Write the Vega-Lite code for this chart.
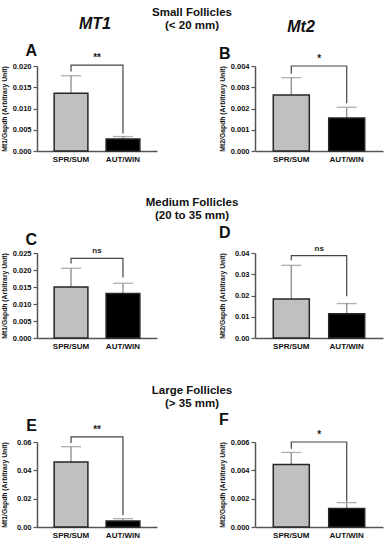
{
 "$schema": "https://vega.github.io/schema/vega-lite/v6.json",
 "background": "white",
 "padding": {"left": 1, "top": 6, "right": 2, "bottom": 2},
 "config": {
  "font": "Liberation Sans",
  "view": {"stroke": null},
  "title": {"font": "Liberation Sans", "fontWeight": "bold", "color": "#111111"},
  "scale": {"bandPaddingInner": 0.35, "bandPaddingOuter": 0.33},
  "axis": {"grid": false, "domainColor": "#555555", "domainWidth": 1.5, "tickColor": "#555555", "tickWidth": 1.2, "labelFont": "Liberation Sans", "labelFontWeight": "bold", "labelColor": "#111111", "titleFont": "Liberation Sans", "titleFontWeight": "bold", "titleColor": "#111111", "labelOverlap": false},
  "axisX": {"ticks": false, "labelFontSize": 8, "labelAngle": 0, "labelPadding": 4},
  "axisY": {"labelFontSize": 7.5, "titleFontSize": 6.8, "tickSize": 4, "labelPadding": 2, "titlePadding": 4, "minExtent": 26, "maxExtent": 26, "labelFlush": false}
 },
 "datasets": {
  "bars": [
   {"panel": "A", "group": "SPR/SUM", "mean": 0.0136, "upper": 0.0177},
   {"panel": "A", "group": "AUT/WIN", "mean": 0.0028, "upper": 0.0034},
   {"panel": "B", "group": "SPR/SUM", "mean": 0.00263, "upper": 0.00345},
   {"panel": "B", "group": "AUT/WIN", "mean": 0.00155, "upper": 0.00206},
   {"panel": "C", "group": "SPR/SUM", "mean": 0.0150, "upper": 0.0205},
   {"panel": "C", "group": "AUT/WIN", "mean": 0.0131, "upper": 0.0161},
   {"panel": "D", "group": "SPR/SUM", "mean": 0.0184, "upper": 0.0342},
   {"panel": "D", "group": "AUT/WIN", "mean": 0.0114, "upper": 0.0162},
   {"panel": "E", "group": "SPR/SUM", "mean": 0.0458, "upper": 0.0567},
   {"panel": "E", "group": "AUT/WIN", "mean": 0.0043, "upper": 0.0059},
   {"panel": "F", "group": "SPR/SUM", "mean": 0.00442, "upper": 0.00526},
   {"panel": "F", "group": "AUT/WIN", "mean": 0.0013, "upper": 0.00172}
  ],
  "brk": [
   {"panel": "A", "group": "SPR/SUM", "y": 0.0187, "k": 0},
   {"panel": "A", "group": "SPR/SUM", "y": 0.0202, "k": 1},
   {"panel": "A", "group": "AUT/WIN", "y": 0.0202, "k": 2},
   {"panel": "A", "group": "AUT/WIN", "y": 0.0041, "k": 3},
   {"panel": "B", "group": "SPR/SUM", "y": 0.00364, "k": 0},
   {"panel": "B", "group": "SPR/SUM", "y": 0.0040, "k": 1},
   {"panel": "B", "group": "AUT/WIN", "y": 0.0040, "k": 2},
   {"panel": "B", "group": "AUT/WIN", "y": 0.00225, "k": 3},
   {"panel": "C", "group": "SPR/SUM", "y": 0.0219, "k": 0},
   {"panel": "C", "group": "SPR/SUM", "y": 0.0234, "k": 1},
   {"panel": "C", "group": "AUT/WIN", "y": 0.0234, "k": 2},
   {"panel": "C", "group": "AUT/WIN", "y": 0.0178, "k": 3},
   {"panel": "D", "group": "SPR/SUM", "y": 0.0366, "k": 0},
   {"panel": "D", "group": "SPR/SUM", "y": 0.0388, "k": 1},
   {"panel": "D", "group": "AUT/WIN", "y": 0.0388, "k": 2},
   {"panel": "D", "group": "AUT/WIN", "y": 0.0197, "k": 3},
   {"panel": "E", "group": "SPR/SUM", "y": 0.0593, "k": 0},
   {"panel": "E", "group": "SPR/SUM", "y": 0.0636, "k": 1},
   {"panel": "E", "group": "AUT/WIN", "y": 0.0636, "k": 2},
   {"panel": "E", "group": "AUT/WIN", "y": 0.0083, "k": 3},
   {"panel": "F", "group": "SPR/SUM", "y": 0.00552, "k": 0},
   {"panel": "F", "group": "SPR/SUM", "y": 0.0060, "k": 1},
   {"panel": "F", "group": "AUT/WIN", "y": 0.0060, "k": 2},
   {"panel": "F", "group": "AUT/WIN", "y": 0.00178, "k": 3}
  ],
  "sig": [
   {"panel": "A", "group": "SPR/SUM", "y": 0.0202, "label": "**"},
   {"panel": "B", "group": "SPR/SUM", "y": 0.0040, "label": "*"},
   {"panel": "C", "group": "SPR/SUM", "y": 0.0234, "label": "ns"},
   {"panel": "D", "group": "SPR/SUM", "y": 0.0388, "label": "ns"},
   {"panel": "E", "group": "SPR/SUM", "y": 0.0636, "label": "**"},
   {"panel": "F", "group": "SPR/SUM", "y": 0.0060, "label": "*"}
  ]
 },
 "spacing": 34,
 "vconcat": [
  {
   "title": {"text": ["Small Follicles", "(< 20 mm)"], "fontSize": 11.5, "lineHeight": 13, "dy": 19, "anchor": "middle"},
   "spacing": 62,
   "hconcat": [
    {"title": {"text": "MT1", "fontSize": 16, "fontStyle": "italic", "anchor": "middle", "align": "left", "frame": "bounds", "offset": 11},
     "vconcat": [
      {"width": 120, "height": 85,
       "title": {"text": "A", "anchor": "start", "frame": "group", "align": "right", "fontSize": 16, "offset": -6},
       "layer": [
        {"data": {"name": "bars"}, "transform": [{"filter": "datum.panel === 'A'"}], "mark": {"type": "rule", "color": "#8c8c8c", "strokeWidth": 1.3},
         "encoding": {"x": {"field": "group", "type": "nominal", "sort": ["SPR/SUM", "AUT/WIN"], "title": null},
          "y": {"field": "mean", "type": "quantitative", "title": "Mt1/Gapdh (Arbitrary Unit)", "scale": {"domain": [0, 0.02], "nice": false}, "axis": {"values": [0, 0.005, 0.01, 0.015, 0.02], "format": ".3f"}},
          "y2": {"field": "upper"}}},
        {"data": {"name": "bars"}, "transform": [{"filter": "datum.panel === 'A'"}], "mark": {"type": "tick", "color": "#8c8c8c", "thickness": 1.3, "size": 20},
         "encoding": {"x": {"field": "group", "type": "nominal", "sort": ["SPR/SUM", "AUT/WIN"], "title": null}, "y": {"field": "upper", "type": "quantitative", "title": "Mt1/Gapdh (Arbitrary Unit)", "axis": {"values": [0, 0.005, 0.01, 0.015, 0.02], "format": ".3f"}}}},
        {"data": {"name": "bars"}, "transform": [{"filter": "datum.panel === 'A'"}], "mark": {"type": "bar", "stroke": "#262626", "strokeWidth": 1.5},
         "encoding": {"x": {"field": "group", "type": "nominal", "sort": ["SPR/SUM", "AUT/WIN"], "title": null}, "y": {"field": "mean", "type": "quantitative", "title": "Mt1/Gapdh (Arbitrary Unit)", "axis": {"values": [0, 0.005, 0.01, 0.015, 0.02], "format": ".3f"}},
          "color": {"field": "group", "type": "nominal", "scale": {"domain": ["SPR/SUM", "AUT/WIN"], "range": ["#c0c0c0", "#000000"]}, "legend": null}}},
        {"data": {"name": "brk"}, "transform": [{"filter": "datum.panel === 'A'"}], "mark": {"type": "line", "color": "#444444", "strokeWidth": 1.2},
         "encoding": {"x": {"field": "group", "type": "nominal", "sort": ["SPR/SUM", "AUT/WIN"], "title": null}, "y": {"field": "y", "type": "quantitative", "title": "Mt1/Gapdh (Arbitrary Unit)", "axis": {"values": [0, 0.005, 0.01, 0.015, 0.02], "format": ".3f"}}, "order": {"field": "k", "type": "quantitative"}}},
        {"data": {"name": "sig"}, "transform": [{"filter": "datum.panel === 'A'"}], "mark": {"type": "text", "dx": 26, "dy": -2, "baseline": "bottom", "fontSize": 10, "fontWeight": "bold", "color": "#222222"},
         "encoding": {"x": {"field": "group", "type": "nominal", "sort": ["SPR/SUM", "AUT/WIN"], "title": null}, "y": {"field": "y", "type": "quantitative", "title": "Mt1/Gapdh (Arbitrary Unit)", "axis": {"values": [0, 0.005, 0.01, 0.015, 0.02], "format": ".3f"}}, "text": {"field": "label"}}}
       ]}
     ]},
    {"title": {"text": "Mt2", "fontSize": 16, "fontStyle": "italic", "anchor": "middle", "frame": "bounds", "offset": 11},
     "vconcat": [
      {"width": 128, "height": 85,
       "title": {"text": "B", "anchor": "start", "frame": "bounds", "fontSize": 16, "offset": -8},
       "layer": [
        {"data": {"name": "bars"}, "transform": [{"filter": "datum.panel === 'B'"}], "mark": {"type": "rule", "color": "#8c8c8c", "strokeWidth": 1.3},
         "encoding": {"x": {"field": "group", "type": "nominal", "sort": ["SPR/SUM", "AUT/WIN"], "title": null},
          "y": {"field": "mean", "type": "quantitative", "title": "Mt2/Gapdh (Arbitrary Unit)", "scale": {"domain": [0, 0.004], "nice": false}, "axis": {"values": [0, 0.001, 0.002, 0.003, 0.004], "format": ".3f"}},
          "y2": {"field": "upper"}}},
        {"data": {"name": "bars"}, "transform": [{"filter": "datum.panel === 'B'"}], "mark": {"type": "tick", "color": "#8c8c8c", "thickness": 1.3, "size": 20},
         "encoding": {"x": {"field": "group", "type": "nominal", "sort": ["SPR/SUM", "AUT/WIN"], "title": null}, "y": {"field": "upper", "type": "quantitative", "title": "Mt2/Gapdh (Arbitrary Unit)", "axis": {"values": [0, 0.001, 0.002, 0.003, 0.004], "format": ".3f"}}}},
        {"data": {"name": "bars"}, "transform": [{"filter": "datum.panel === 'B'"}], "mark": {"type": "bar", "stroke": "#262626", "strokeWidth": 1.5},
         "encoding": {"x": {"field": "group", "type": "nominal", "sort": ["SPR/SUM", "AUT/WIN"], "title": null}, "y": {"field": "mean", "type": "quantitative", "title": "Mt2/Gapdh (Arbitrary Unit)", "axis": {"values": [0, 0.001, 0.002, 0.003, 0.004], "format": ".3f"}},
          "color": {"field": "group", "type": "nominal", "scale": {"domain": ["SPR/SUM", "AUT/WIN"], "range": ["#c0c0c0", "#000000"]}, "legend": null}}},
        {"data": {"name": "brk"}, "transform": [{"filter": "datum.panel === 'B'"}], "mark": {"type": "line", "color": "#444444", "strokeWidth": 1.2},
         "encoding": {"x": {"field": "group", "type": "nominal", "sort": ["SPR/SUM", "AUT/WIN"], "title": null}, "y": {"field": "y", "type": "quantitative", "title": "Mt2/Gapdh (Arbitrary Unit)", "axis": {"values": [0, 0.001, 0.002, 0.003, 0.004], "format": ".3f"}}, "order": {"field": "k", "type": "quantitative"}}},
        {"data": {"name": "sig"}, "transform": [{"filter": "datum.panel === 'B'"}], "mark": {"type": "text", "dx": 28, "dy": -2, "baseline": "bottom", "fontSize": 10, "fontWeight": "bold", "color": "#222222"},
         "encoding": {"x": {"field": "group", "type": "nominal", "sort": ["SPR/SUM", "AUT/WIN"], "title": null}, "y": {"field": "y", "type": "quantitative", "title": "Mt2/Gapdh (Arbitrary Unit)", "axis": {"values": [0, 0.001, 0.002, 0.003, 0.004], "format": ".3f"}}, "text": {"field": "label"}}}
       ]}
     ]}
   ]
  },
  {
   "title": {"text": ["Medium Follicles", "(20 to 35 mm)"], "fontSize": 11.5, "lineHeight": 13, "anchor": "middle", "offset": 3},
   "spacing": 62,
   "hconcat": [
    {"width": 120, "height": 85,
     "title": {"text": "C", "anchor": "start", "frame": "group", "align": "right", "fontSize": 16, "offset": -1},
     "layer": [
      {"data": {"name": "bars"}, "transform": [{"filter": "datum.panel === 'C'"}], "mark": {"type": "rule", "color": "#8c8c8c", "strokeWidth": 1.3},
       "encoding": {"x": {"field": "group", "type": "nominal", "sort": ["SPR/SUM", "AUT/WIN"], "title": null},
        "y": {"field": "mean", "type": "quantitative", "title": "Mt1/Gapdh (Arbitrary Unit)", "scale": {"domain": [0, 0.025], "nice": false}, "axis": {"values": [0, 0.005, 0.01, 0.015, 0.02, 0.025], "format": ".3f"}},
        "y2": {"field": "upper"}}},
      {"data": {"name": "bars"}, "transform": [{"filter": "datum.panel === 'C'"}], "mark": {"type": "tick", "color": "#8c8c8c", "thickness": 1.3, "size": 20},
       "encoding": {"x": {"field": "group", "type": "nominal", "sort": ["SPR/SUM", "AUT/WIN"], "title": null}, "y": {"field": "upper", "type": "quantitative", "title": "Mt1/Gapdh (Arbitrary Unit)", "axis": {"values": [0, 0.005, 0.01, 0.015, 0.02, 0.025], "format": ".3f"}}}},
      {"data": {"name": "bars"}, "transform": [{"filter": "datum.panel === 'C'"}], "mark": {"type": "bar", "stroke": "#262626", "strokeWidth": 1.5},
       "encoding": {"x": {"field": "group", "type": "nominal", "sort": ["SPR/SUM", "AUT/WIN"], "title": null}, "y": {"field": "mean", "type": "quantitative", "title": "Mt1/Gapdh (Arbitrary Unit)", "axis": {"values": [0, 0.005, 0.01, 0.015, 0.02, 0.025], "format": ".3f"}},
        "color": {"field": "group", "type": "nominal", "scale": {"domain": ["SPR/SUM", "AUT/WIN"], "range": ["#c0c0c0", "#000000"]}, "legend": null}}},
      {"data": {"name": "brk"}, "transform": [{"filter": "datum.panel === 'C'"}], "mark": {"type": "line", "color": "#444444", "strokeWidth": 1.2},
       "encoding": {"x": {"field": "group", "type": "nominal", "sort": ["SPR/SUM", "AUT/WIN"], "title": null}, "y": {"field": "y", "type": "quantitative", "title": "Mt1/Gapdh (Arbitrary Unit)", "axis": {"values": [0, 0.005, 0.01, 0.015, 0.02, 0.025], "format": ".3f"}}, "order": {"field": "k", "type": "quantitative"}}},
      {"data": {"name": "sig"}, "transform": [{"filter": "datum.panel === 'C'"}], "mark": {"type": "text", "dx": 26, "dy": -3, "baseline": "bottom", "fontSize": 8, "fontWeight": "bold", "color": "#222222"},
       "encoding": {"x": {"field": "group", "type": "nominal", "sort": ["SPR/SUM", "AUT/WIN"], "title": null}, "y": {"field": "y", "type": "quantitative", "title": "Mt1/Gapdh (Arbitrary Unit)", "axis": {"values": [0, 0.005, 0.01, 0.015, 0.02, 0.025], "format": ".3f"}}, "text": {"field": "label"}}}
     ]},
    {"width": 128, "height": 85,
     "title": {"text": "D", "anchor": "start", "frame": "bounds", "fontSize": 16, "offset": 4},
     "layer": [
      {"data": {"name": "bars"}, "transform": [{"filter": "datum.panel === 'D'"}], "mark": {"type": "rule", "color": "#8c8c8c", "strokeWidth": 1.3},
       "encoding": {"x": {"field": "group", "type": "nominal", "sort": ["SPR/SUM", "AUT/WIN"], "title": null},
        "y": {"field": "mean", "type": "quantitative", "title": "Mt2/Gapdh (Arbitrary Unit)", "scale": {"domain": [0, 0.04], "nice": false}, "axis": {"values": [0, 0.01, 0.02, 0.03, 0.04], "format": ".2f"}},
        "y2": {"field": "upper"}}},
      {"data": {"name": "bars"}, "transform": [{"filter": "datum.panel === 'D'"}], "mark": {"type": "tick", "color": "#8c8c8c", "thickness": 1.3, "size": 20},
       "encoding": {"x": {"field": "group", "type": "nominal", "sort": ["SPR/SUM", "AUT/WIN"], "title": null}, "y": {"field": "upper", "type": "quantitative", "title": "Mt2/Gapdh (Arbitrary Unit)", "axis": {"values": [0, 0.01, 0.02, 0.03, 0.04], "format": ".2f"}}}},
      {"data": {"name": "bars"}, "transform": [{"filter": "datum.panel === 'D'"}], "mark": {"type": "bar", "stroke": "#262626", "strokeWidth": 1.5},
       "encoding": {"x": {"field": "group", "type": "nominal", "sort": ["SPR/SUM", "AUT/WIN"], "title": null}, "y": {"field": "mean", "type": "quantitative", "title": "Mt2/Gapdh (Arbitrary Unit)", "axis": {"values": [0, 0.01, 0.02, 0.03, 0.04], "format": ".2f"}},
        "color": {"field": "group", "type": "nominal", "scale": {"domain": ["SPR/SUM", "AUT/WIN"], "range": ["#c0c0c0", "#000000"]}, "legend": null}}},
      {"data": {"name": "brk"}, "transform": [{"filter": "datum.panel === 'D'"}], "mark": {"type": "line", "color": "#444444", "strokeWidth": 1.2},
       "encoding": {"x": {"field": "group", "type": "nominal", "sort": ["SPR/SUM", "AUT/WIN"], "title": null}, "y": {"field": "y", "type": "quantitative", "title": "Mt2/Gapdh (Arbitrary Unit)", "axis": {"values": [0, 0.01, 0.02, 0.03, 0.04], "format": ".2f"}}, "order": {"field": "k", "type": "quantitative"}}},
      {"data": {"name": "sig"}, "transform": [{"filter": "datum.panel === 'D'"}], "mark": {"type": "text", "dx": 28, "dy": -3, "baseline": "bottom", "fontSize": 8, "fontWeight": "bold", "color": "#222222"},
       "encoding": {"x": {"field": "group", "type": "nominal", "sort": ["SPR/SUM", "AUT/WIN"], "title": null}, "y": {"field": "y", "type": "quantitative", "title": "Mt2/Gapdh (Arbitrary Unit)", "axis": {"values": [0, 0.01, 0.02, 0.03, 0.04], "format": ".2f"}}, "text": {"field": "label"}}}
     ]}
   ]
  },
  {
   "title": {"text": ["Large Follicles", "(> 35 mm)"], "fontSize": 11.5, "lineHeight": 13, "anchor": "middle", "offset": 3},
   "spacing": 62,
   "hconcat": [
    {"width": 120, "height": 85,
     "title": {"text": "E", "anchor": "start", "frame": "group", "align": "right", "fontSize": 16, "offset": -9},
     "layer": [
      {"data": {"name": "bars"}, "transform": [{"filter": "datum.panel === 'E'"}], "mark": {"type": "rule", "color": "#8c8c8c", "strokeWidth": 1.3},
       "encoding": {"x": {"field": "group", "type": "nominal", "sort": ["SPR/SUM", "AUT/WIN"], "title": null},
        "y": {"field": "mean", "type": "quantitative", "title": "Mt1/Gapdh (Arbitrary Unit)", "scale": {"domain": [0, 0.06], "nice": false}, "axis": {"values": [0, 0.02, 0.04, 0.06], "format": ".2f"}},
        "y2": {"field": "upper"}}},
      {"data": {"name": "bars"}, "transform": [{"filter": "datum.panel === 'E'"}], "mark": {"type": "tick", "color": "#8c8c8c", "thickness": 1.3, "size": 20},
       "encoding": {"x": {"field": "group", "type": "nominal", "sort": ["SPR/SUM", "AUT/WIN"], "title": null}, "y": {"field": "upper", "type": "quantitative", "title": "Mt1/Gapdh (Arbitrary Unit)", "axis": {"values": [0, 0.02, 0.04, 0.06], "format": ".2f"}}}},
      {"data": {"name": "bars"}, "transform": [{"filter": "datum.panel === 'E'"}], "mark": {"type": "bar", "stroke": "#262626", "strokeWidth": 1.5},
       "encoding": {"x": {"field": "group", "type": "nominal", "sort": ["SPR/SUM", "AUT/WIN"], "title": null}, "y": {"field": "mean", "type": "quantitative", "title": "Mt1/Gapdh (Arbitrary Unit)", "axis": {"values": [0, 0.02, 0.04, 0.06], "format": ".2f"}},
        "color": {"field": "group", "type": "nominal", "scale": {"domain": ["SPR/SUM", "AUT/WIN"], "range": ["#c0c0c0", "#000000"]}, "legend": null}}},
      {"data": {"name": "brk"}, "transform": [{"filter": "datum.panel === 'E'"}], "mark": {"type": "line", "color": "#444444", "strokeWidth": 1.2},
       "encoding": {"x": {"field": "group", "type": "nominal", "sort": ["SPR/SUM", "AUT/WIN"], "title": null}, "y": {"field": "y", "type": "quantitative", "title": "Mt1/Gapdh (Arbitrary Unit)", "axis": {"values": [0, 0.02, 0.04, 0.06], "format": ".2f"}}, "order": {"field": "k", "type": "quantitative"}}},
      {"data": {"name": "sig"}, "transform": [{"filter": "datum.panel === 'E'"}], "mark": {"type": "text", "dx": 26, "dy": -2, "baseline": "bottom", "fontSize": 10, "fontWeight": "bold", "color": "#222222"},
       "encoding": {"x": {"field": "group", "type": "nominal", "sort": ["SPR/SUM", "AUT/WIN"], "title": null}, "y": {"field": "y", "type": "quantitative", "title": "Mt1/Gapdh (Arbitrary Unit)", "axis": {"values": [0, 0.02, 0.04, 0.06], "format": ".2f"}}, "text": {"field": "label"}}}
     ]},
    {"width": 128, "height": 85,
     "title": {"text": "F", "anchor": "start", "frame": "bounds", "fontSize": 16, "offset": 2},
     "layer": [
      {"data": {"name": "bars"}, "transform": [{"filter": "datum.panel === 'F'"}], "mark": {"type": "rule", "color": "#8c8c8c", "strokeWidth": 1.3},
       "encoding": {"x": {"field": "group", "type": "nominal", "sort": ["SPR/SUM", "AUT/WIN"], "title": null},
        "y": {"field": "mean", "type": "quantitative", "title": "Mt2/Gapdh (Arbitrary Unit)", "scale": {"domain": [0, 0.006], "nice": false}, "axis": {"values": [0, 0.002, 0.004, 0.006], "format": ".3f"}},
        "y2": {"field": "upper"}}},
      {"data": {"name": "bars"}, "transform": [{"filter": "datum.panel === 'F'"}], "mark": {"type": "tick", "color": "#8c8c8c", "thickness": 1.3, "size": 20},
       "encoding": {"x": {"field": "group", "type": "nominal", "sort": ["SPR/SUM", "AUT/WIN"], "title": null}, "y": {"field": "upper", "type": "quantitative", "title": "Mt2/Gapdh (Arbitrary Unit)", "axis": {"values": [0, 0.002, 0.004, 0.006], "format": ".3f"}}}},
      {"data": {"name": "bars"}, "transform": [{"filter": "datum.panel === 'F'"}], "mark": {"type": "bar", "stroke": "#262626", "strokeWidth": 1.5},
       "encoding": {"x": {"field": "group", "type": "nominal", "sort": ["SPR/SUM", "AUT/WIN"], "title": null}, "y": {"field": "mean", "type": "quantitative", "title": "Mt2/Gapdh (Arbitrary Unit)", "axis": {"values": [0, 0.002, 0.004, 0.006], "format": ".3f"}},
        "color": {"field": "group", "type": "nominal", "scale": {"domain": ["SPR/SUM", "AUT/WIN"], "range": ["#c0c0c0", "#000000"]}, "legend": null}}},
      {"data": {"name": "brk"}, "transform": [{"filter": "datum.panel === 'F'"}], "mark": {"type": "line", "color": "#444444", "strokeWidth": 1.2},
       "encoding": {"x": {"field": "group", "type": "nominal", "sort": ["SPR/SUM", "AUT/WIN"], "title": null}, "y": {"field": "y", "type": "quantitative", "title": "Mt2/Gapdh (Arbitrary Unit)", "axis": {"values": [0, 0.002, 0.004, 0.006], "format": ".3f"}}, "order": {"field": "k", "type": "quantitative"}}},
      {"data": {"name": "sig"}, "transform": [{"filter": "datum.panel === 'F'"}], "mark": {"type": "text", "dx": 28, "dy": -2, "baseline": "bottom", "fontSize": 10, "fontWeight": "bold", "color": "#222222"},
       "encoding": {"x": {"field": "group", "type": "nominal", "sort": ["SPR/SUM", "AUT/WIN"], "title": null}, "y": {"field": "y", "type": "quantitative", "title": "Mt2/Gapdh (Arbitrary Unit)", "axis": {"values": [0, 0.002, 0.004, 0.006], "format": ".3f"}}, "text": {"field": "label"}}}
     ]}
   ]
  }
 ]
}
